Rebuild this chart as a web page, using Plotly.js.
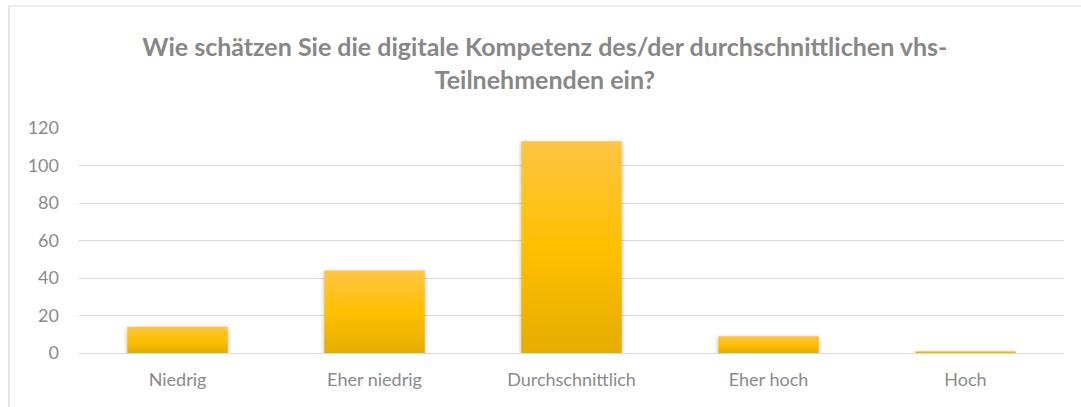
<!DOCTYPE html>
<html>
<head>
<meta charset="utf-8">
<script src="https://cdn.plot.ly/plotly-3.0.1.min.js"></script>
<style>
  html, body { margin: 0; padding: 0; background: #fff; }
  #chart { width: 1081px; height: 407px; }
</style>
</head>
<body>
<div id="chart"></div>
<script>
const categories = ["Niedrig", "Eher niedrig", "Durchschnittlich", "Eher hoch", "Hoch"];
const values = [14, 44, 113, 9, 1];
const yTicks = [0, 20, 40, 60, 80, 100, 120];
const titleText = "Wie schätzen Sie die digitale Kompetenz des/der durchschnittlichen vhs-<br>Teilnehmenden ein?";

const textColor = "#8a8a8a";
const fontFamily = "Lato, 'Open Sans', sans-serif";

const trace = {
  type: "bar",
  x: categories,
  y: values,
  marker: { color: "#FFC000", line: { width: 0 } },
  hoverinfo: "x+y"
};

const layout = {
  width: 1081,
  height: 407,
  margin: { l: 79, r: 17, t: 128, b: 54, pad: 0 },
  paper_bgcolor: "#ffffff",
  plot_bgcolor: "#ffffff",
  showlegend: false,
  bargap: 0.49,
  font: { family: fontFamily, color: textColor, size: 18 },
  title: {
    text: titleText,
    font: { family: fontFamily, size: 25, color: "#878787", weight: "bold" },
    x: 0.504,
    xanchor: "center",
    xref: "container",
    y: 0.8617,
    yanchor: "top",
    yref: "container"
  },
  xaxis: {
    type: "category",
    showgrid: false,
    zeroline: false,
    showline: false,
    ticks: "",
    ticklabelstandoff: 14,
    tickfont: { family: fontFamily, size: 18, color: textColor },
    fixedrange: true
  },
  yaxis: {
    range: [0, 120],
    tickvals: yTicks,
    ticktext: yTicks.map(String),
    showgrid: true,
    gridcolor: "#d9d9d9",
    gridwidth: 1,
    zeroline: true,
    zerolinecolor: "#d9d9d9",
    zerolinewidth: 1,
    showline: false,
    ticks: "",
    ticklabelstandoff: 19,
    tickfont: { family: fontFamily, size: 18, color: textColor },
    fixedrange: true
  },
  shapes: [
    {
      type: "rect",
      xref: "paper", yref: "paper",
      x0: -0.0711, x1: 1.04,
      y0: -0.30, y1: 1.5422,
      line: { color: "#d9d9d9", width: 1.2 },
      fillcolor: "rgba(0,0,0,0)",
      layer: "below"
    }
  ]
};

Plotly.newPlot("chart", [trace], layout, { displayModeBar: false, staticPlot: true }).then(function (gd) {
  const svg = gd.querySelector("svg.main-svg");
  const ns = "http://www.w3.org/2000/svg";
  let defs = svg.querySelector("defs");
  if (!defs) { defs = document.createElementNS(ns, "defs"); svg.insertBefore(defs, svg.firstChild); }
  const grad = document.createElementNS(ns, "linearGradient");
  grad.setAttribute("id", "barGrad");
  grad.setAttribute("x1", "0"); grad.setAttribute("y1", "0");
  grad.setAttribute("x2", "0"); grad.setAttribute("y2", "1");
  [["0", "#FFC444"], ["0.5", "#FFC000"], ["1", "#E6AD00"]].forEach(function (s) {
    const st = document.createElementNS(ns, "stop");
    st.setAttribute("offset", s[0]);
    st.setAttribute("stop-color", s[1]);
    grad.appendChild(st);
  });
  defs.appendChild(grad);
  const filt = document.createElementNS(ns, "filter");
  filt.setAttribute("id", "barShadow");
  filt.setAttribute("x", "-20%"); filt.setAttribute("y", "-20%");
  filt.setAttribute("width", "140%"); filt.setAttribute("height", "140%");
  const ds = document.createElementNS(ns, "feDropShadow");
  ds.setAttribute("dx", "0"); ds.setAttribute("dy", "1.5");
  ds.setAttribute("stdDeviation", "2");
  ds.setAttribute("flood-color", "#000");
  ds.setAttribute("flood-opacity", "0.3");
  filt.appendChild(ds);
  defs.appendChild(filt);
  gd.querySelectorAll(".bars .point path").forEach(function (p) {
    p.style.fill = "url(#barGrad)";
    p.setAttribute("filter", "url(#barShadow)");
  });
});
</script>
</body>
</html>
